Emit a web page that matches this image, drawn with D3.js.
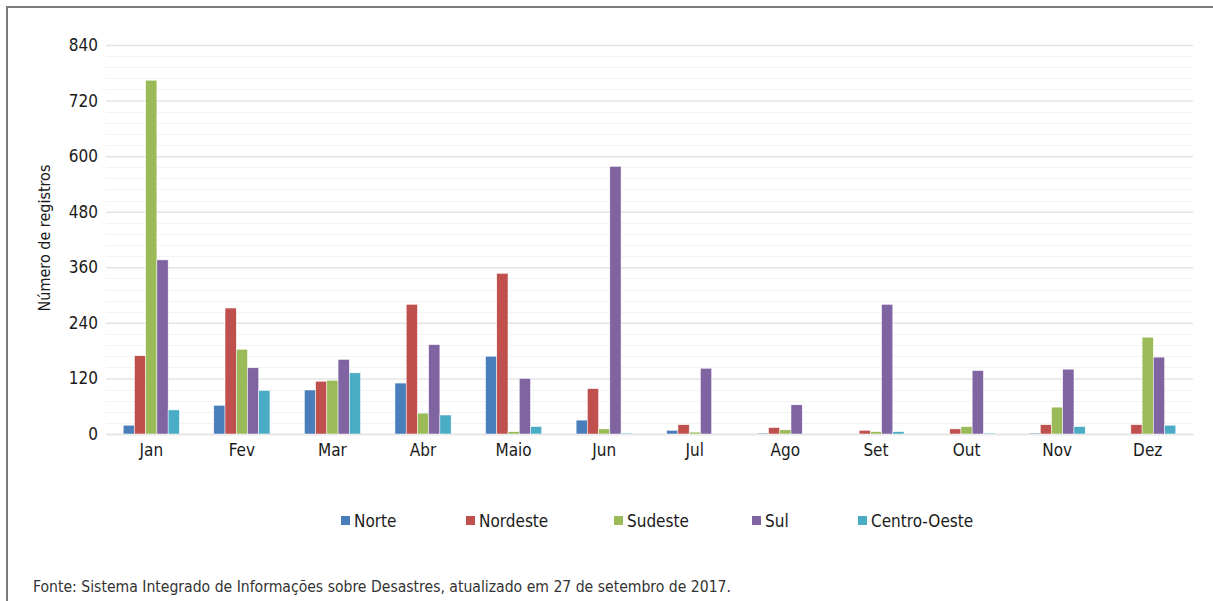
<!DOCTYPE html>
<html>
<head>
<meta charset="utf-8">
<script src="https://cdn.jsdelivr.net/npm/d3@7"></script>
<style>
  body { margin: 0; background: #fff; }
  svg text { font-family: "DejaVu Sans Condensed", "DejaVu Sans", sans-serif; fill: #1a1a1a; }
</style>
</head>
<body>
<svg id="chart" width="1213" height="601"></svg>
<script>
var months = ['Jan', 'Fev', 'Mar', 'Abr', 'Maio', 'Jun', 'Jul', 'Ago', 'Set', 'Out', 'Nov', 'Dez'];
var regions = ['Norte', 'Nordeste', 'Sudeste', 'Sul', 'Centro-Oeste'];
var colors = ['#4a7ebb', '#c0504d', '#9bbb59', '#8064a2', '#4bacc6'];

// one array per region, Jan..Dez
var norte = [19, 62, 95, 110, 168, 30, 8, 2, 0, 0, 2, 0];
var nordeste = [169, 272, 114, 280, 347, 98, 20, 14, 8, 11, 20, 20];
var sudeste = [764, 183, 116, 45, 5, 11, 4, 9, 5, 16, 58, 209];
var sul = [376, 143, 161, 193, 120, 578, 142, 63, 280, 137, 140, 166];
var centroOeste = [52, 94, 132, 41, 16, 2, 0, 0, 5, 2, 16, 19];
var series = [norte, nordeste, sudeste, sul, centroOeste];

var yTicks = [0, 120, 240, 360, 480, 600, 720, 840];

var svg = d3.select('#chart');
var margin = { top: 45, left: 106, right: 20, bottom: 167 };
var w = 1213 - margin.left - margin.right,
  h = 601 - margin.top - margin.bottom;

// frame lines (top and left)
svg.append('line').attr('x1', 6).attr('x2', 1213).attr('y1', 7).attr('y2', 7)
  .attr('stroke', '#7a7a7a').attr('stroke-width', 2);
svg.append('line').attr('x1', 7).attr('x2', 7).attr('y1', 6).attr('y2', 601)
  .attr('stroke', '#7a7a7a').attr('stroke-width', 2);

var g = svg.append('g').attr('transform', 'translate(' + margin.left + ',' + margin.top + ')');

var x0 = d3.scaleBand().domain(months).range([0, w]).paddingInner(0.38).paddingOuter(0.19);
var x1 = d3.scaleBand().domain(regions).range([0, x0.bandwidth()]);
var y = d3.scaleLinear().domain([0, 840]).range([h, 0]);

// minor gridlines every 24
g.append('g').selectAll('line')
  .data(d3.range(24, 840, 24).filter(function (v) { return v % 120 !== 0; }))
  .enter().append('line')
  .attr('x1', 0).attr('x2', w)
  .attr('y1', function (d) { return Math.round(y(d)) + 0.5; })
  .attr('y2', function (d) { return Math.round(y(d)) + 0.5; })
  .attr('stroke', '#f3f3f3');

var yAxis = g.append('g')
  .call(d3.axisLeft(y).tickValues(yTicks).tickSize(-w).tickPadding(8));
yAxis.select('.domain').remove();
yAxis.selectAll('.tick line').attr('stroke', '#e4e4e4').attr('stroke-width', 1.5);
yAxis.selectAll('.tick text').style('font-size', '17px');

var xAxis = g.append('g').attr('transform', 'translate(0,' + h + ')')
  .call(d3.axisBottom(x0).tickSize(0).tickPadding(10));
xAxis.select('.domain').attr('stroke', '#e4e4e4').attr('stroke-width', 1.5);
xAxis.selectAll('.tick text').style('font-size', '17px');

var groups = g.append('g').selectAll('g')
  .data(months)
  .enter().append('g')
  .attr('transform', function (m) { return 'translate(' + x0(m) + ',0)'; });

groups.selectAll('rect')
  .data(function (m, i) {
    return regions.map(function (r, k) { return { region: r, k: k, value: series[k][i] }; });
  })
  .enter().append('rect')
  .attr('x', function (d) { return x1(d.region); })
  .attr('width', x1.bandwidth())
  .attr('y', function (d) { return y(d.value); })
  .attr('height', function (d) { return h - y(d.value); })
  .attr('fill', function (d) { return colors[d.k]; })
  .attr('stroke', '#fff')
  .attr('stroke-width', 0.5);

// y axis title
svg.append('text')
  .attr('transform', 'translate(50,238) rotate(-90)')
  .attr('text-anchor', 'middle')
  .style('font-size', '16px')
  .text('Número de registros');

// legend
var legendX = [341, 466, 614, 752, 858];
var legend = svg.append('g').selectAll('g')
  .data(regions)
  .enter().append('g')
  .attr('transform', function (d, i) { return 'translate(' + legendX[i] + ',516)'; });
legend.append('rect').attr('width', 9).attr('height', 9)
  .attr('fill', function (d, i) { return colors[i]; });
legend.append('text').attr('x', 13).attr('y', 11)
  .style('font-size', '17px')
  .text(function (d) { return d; });

svg.append('text')
  .attr('x', 33).attr('y', 592)
  .style('font-size', '15.6px')
  .style('fill', '#333')
  .text('Fonte: Sistema Integrado de Informações sobre Desastres, atualizado em 27 de setembro de 2017.');
</script>
</body>
</html>
